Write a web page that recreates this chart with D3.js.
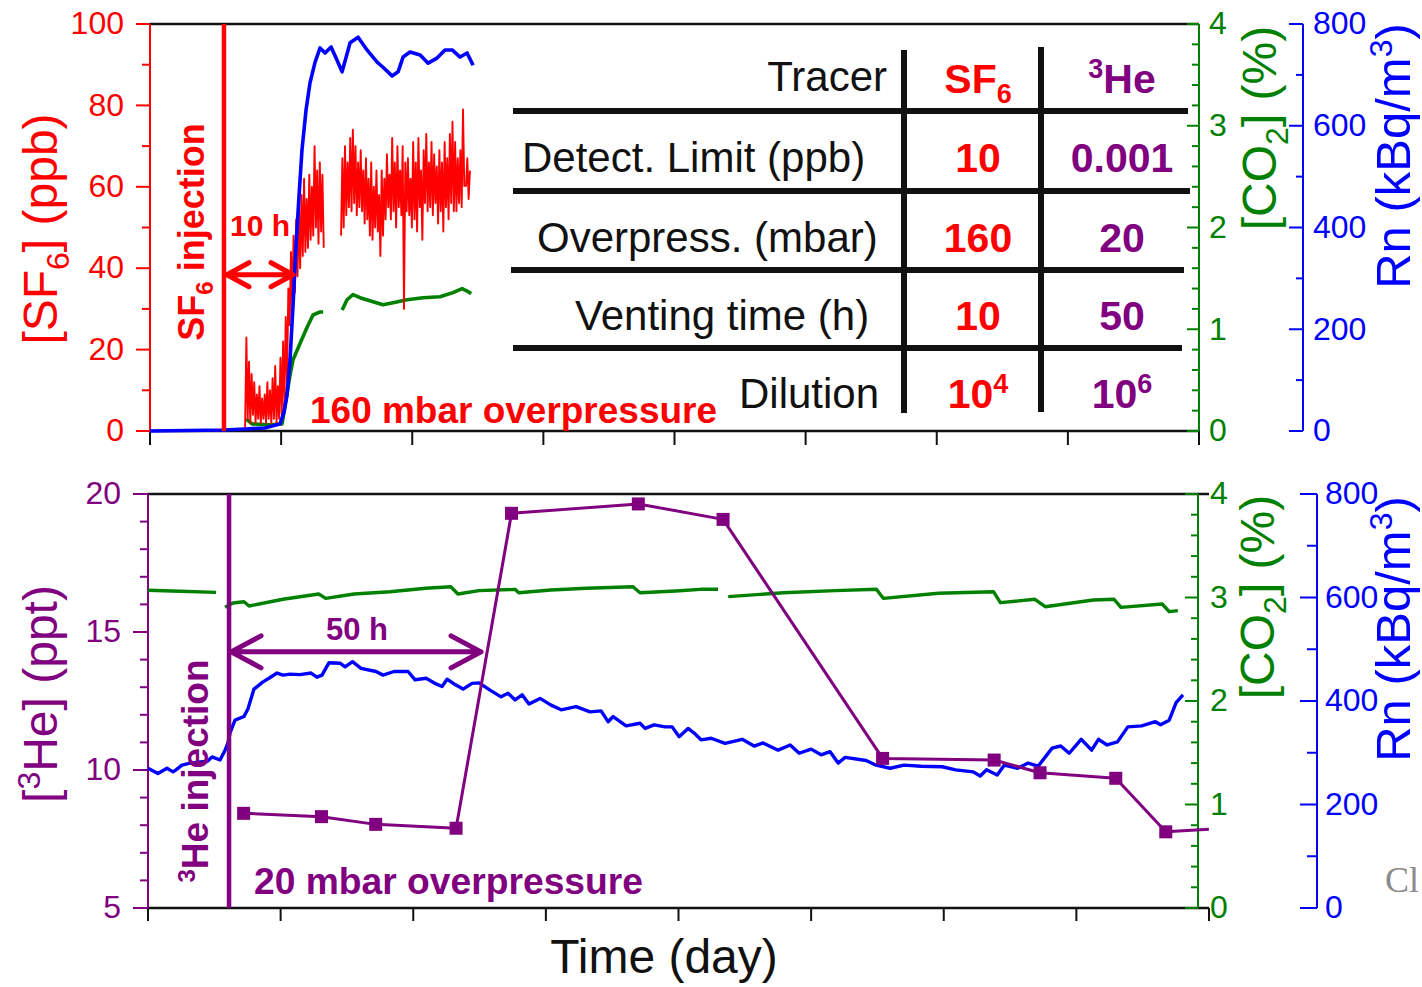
<!DOCTYPE html>
<html>
<head>
<meta charset="utf-8">
<script src="https://cdn.jsdelivr.net/npm/d3@7"></script>
<style>
  html, body { margin: 0; padding: 0; background: #fff; }
  svg { display: block; }
</style>
</head>
<body>
<svg id="chart" width="1422" height="987"></svg>
<script>
// ---- data (time in days) ----
const timeTicks = [0, 1, 2, 3, 4, 5, 6, 7, 8];
const sf6Ticks = [0, 20, 40, 60, 80, 100];
const sf6Minor = [10, 30, 50, 70, 90];
const he3Ticks = [5, 10, 15, 20];
const he3Minor = [6, 7, 8, 9, 11, 12, 13, 14, 16, 17, 18, 19];
const co2Ticks = [0, 1, 2, 3, 4];
const co2Minor = [0.2, 0.4, 0.6, 0.8, 1.2, 1.4, 1.6, 1.8, 2.2, 2.4, 2.6, 2.8, 3.2, 3.4, 3.6, 3.8];
const rnTicks = [0, 200, 400, 600, 800];
const rnMinor = [100, 300, 500, 700];

const sf6InjectionDay = 0.564;
const he3InjectionDay = 0.611;

// SF6 (ppb), sampled every 0.01 day, three recorded segments
const sf6Step = 0.01;
const sf6SegStarts = [0.725, 1.457, 2.41];
const sf6SegA = [0.5, 23, 3, 17, 2, 14, 4, 12, 2, 9, 3, 11, 2, 8, 3, 9, 2, 12, 3, 10, 2, 13, 3, 16, 2, 11, 3, 18, 4, 22,
  6, 28, 12, 35, 26, 44, 31, 48, 34, 52, 38, 55, 40, 58, 43, 62, 44, 57, 45, 63, 47, 60, 48, 70, 50, 64, 46, 66, 49, 63, 45];
const sf6SegB = [48, 67, 50, 70, 53, 66, 55, 72, 54, 74, 56, 70, 53, 66, 55, 69, 54, 64, 51, 67,
  52, 62, 48, 66, 47, 60, 50, 64, 49, 58, 43, 64, 48, 62, 52, 68, 55, 63, 52, 72,
  54, 66, 50, 70, 55, 64, 53, 70, 30, 66, 54, 67, 53, 62, 50, 71, 52, 66, 49, 72,
  55, 64, 47, 69, 56, 73, 54, 66, 55, 71, 53, 68, 56, 65, 51, 69, 54, 66, 49, 71,
  55, 67, 52, 73, 56, 76, 54, 71, 54, 67, 56, 69, 55, 79, 60];
const sf6SegC = [60, 67, 57, 64];

// top panel radon (kBq/m3)
const rnTopDays = [0, 0.564, 0.725, 0.877, 0.992, 1.022, 1.045, 1.068, 1.091, 1.114, 1.137, 1.159, 1.190, 1.220, 1.259,
  1.297, 1.335, 1.381, 1.419, 1.465, 1.526, 1.587, 1.655, 1.732, 1.777, 1.846, 1.892, 1.930, 1.983, 2.060,
  2.121, 2.189, 2.250, 2.304, 2.365, 2.418, 2.464];
const rnTopValues = [0, 2, 4, 6, 14, 37, 71, 140, 248, 366, 464, 552, 631, 684, 725,
  753, 743, 755, 733, 706, 763, 774, 749, 725, 715, 698, 706, 735, 745, 739,
  723, 733, 749, 749, 735, 743, 719];

// top panel CO2 (%), null = gap
const co2TopDays = [0.732, 0.778, 0.915, 1.007, 1.045, 1.068, 1.091, 1.144, 1.198, 1.243, 1.297, 1.320, 1.39,
  1.465, 1.503, 1.548, 1.602, 1.701, 1.777, 1.854, 1.960, 2.082, 2.212, 2.311, 2.380, 2.426, 2.449];
const co2TopValues = [0.12, 0.07, 0.06, 0.07, 0.37, 0.55, 0.70, 0.86, 1.02, 1.14, 1.17, 1.17, null,
  1.19, 1.29, 1.34, 1.31, 1.27, 1.24, 1.26, 1.29, 1.31, 1.32, 1.36, 1.40, 1.37, 1.35];

// bottom panel 3He (ppt)
const he3Days = [0.721, 1.308, 1.717, 2.323, 2.741, 3.697, 4.336, 5.539, 6.380, 6.726, 7.297, 7.674];
const he3Values = [8.43, 8.31, 8.03, 7.89, 19.30, 19.64, 19.08, 10.42, 10.36, 9.90, 9.70, 7.76];
const he3EndDay = 7.999;
const he3EndValue = 7.85;

// bottom panel radon (kBq/m3)
const rnBotDays = [0, 0.075, 0.143, 0.189, 0.211, 0.256, 0.317, 0.392, 0.445, 0.483,
  0.543, 0.581, 0.603, 0.618, 0.656, 0.724, 0.754, 0.799, 0.867, 0.912,
  0.973, 1.018, 1.071, 1.146, 1.229, 1.274, 1.312, 1.365, 1.448, 1.486,
  1.542, 1.606, 1.719, 1.772, 1.855, 1.961, 2.014, 2.097, 2.172, 2.217,
  2.255, 2.308, 2.376, 2.443, 2.496, 2.579, 2.662, 2.715, 2.768, 2.821,
  2.873, 2.956, 3.039, 3.115, 3.228, 3.333, 3.416, 3.469, 3.507, 3.605,
  3.710, 3.748, 3.816, 3.899, 3.952, 4.005, 4.072, 4.118, 4.170, 4.246,
  4.351, 4.480, 4.570, 4.638, 4.751, 4.842, 4.910, 5.000, 5.075, 5.143,
  5.204, 5.256, 5.415, 5.490, 5.596, 5.701, 5.830, 5.988, 6.090, 6.222,
  6.275, 6.323, 6.403, 6.456, 6.558, 6.636, 6.712, 6.817, 6.882, 6.946,
  7.036, 7.115, 7.167, 7.232, 7.310, 7.388, 7.492, 7.596, 7.635, 7.700,
  7.752, 7.804];
const rnBotValues = [270, 260, 270, 263, 267, 276, 280, 282, 283, 292,
  286, 305, 319, 338, 363, 370, 385, 423, 437, 444,
  454, 450, 452, 451, 454, 446, 450, 474, 473, 466,
  476, 463, 457, 450, 457, 457, 441, 444, 433, 428,
  442, 433, 423, 434, 435, 421, 408, 415, 402, 412,
  394, 405, 392, 383, 389, 379, 381, 360, 370, 352,
  357, 347, 354, 350, 350, 331, 347, 338, 325, 328,
  318, 326, 313, 319, 305, 315, 299, 307, 296, 302,
  280, 291, 285, 276, 270, 276, 274, 273, 267, 263,
  255, 267, 257, 276, 270, 280, 274, 309, 313, 299,
  326, 305, 326, 315, 321, 350, 352, 360, 354, 363,
  397, 412];

// bottom panel CO2 (%), null = gap
const co2BotDays = [0, 0.241, 0.513, 0.55,
  0.581, 0.641, 0.724, 0.762, 1.018, 1.287, 1.340, 1.554, 1.825, 2.094, 2.283, 2.337, 2.496, 2.768, 2.795,
  3.037, 3.306, 3.657, 3.710, 3.980, 4.163, 4.298, 4.34,
  4.375, 4.791, 5.181, 5.492, 5.544, 5.960, 6.375, 6.427, 6.687, 6.765, 7.128, 7.284, 7.336, 7.647, 7.700, 7.765];
const co2BotValues = [3.07, 3.06, 3.05, null,
  2.905, 2.947, 2.959, 2.918, 2.983, 3.034, 2.992, 3.034, 3.056, 3.089, 3.104, 3.034, 3.066, 3.079, 3.046,
  3.072, 3.089, 3.104, 3.046, 3.063, 3.079, 3.079, null,
  3.008, 3.046, 3.066, 3.079, 2.992, 3.041, 3.056, 2.950, 2.983, 2.911, 2.976, 2.983, 2.905, 2.937, 2.863, 2.873];

// table
const tableHeader = "Tracer";
const tableRows = ["Detect. Limit (ppb)", "Overpress. (mbar)", "Venting time (h)", "Dilution"];
const sf6Column = ["10", "160", "10", "10^4"];
const he3Column = ["0.001", "20", "50", "10^6"];

// ---- drawing ----
const FONT = '"Liberation Sans", Arial, Helvetica, sans-serif';
const RED = "#ff0000", PURPLE = "#800080", GREEN = "#008000", BLUE = "#0000ff", INK = "#111";

const svg = d3.select("#chart").attr("font-family", FONT);

const xTop = d3.scaleLinear().domain([0, 8]).range([150, 1199]);
const ySf6 = d3.scaleLinear().domain([0, 100]).range([431, 24]);
const yCo2Top = d3.scaleLinear().domain([0, 4]).range([431, 24]);
const yRnTop = d3.scaleLinear().domain([0, 800]).range([431, 24]);

const xBot = d3.scaleLinear().domain([0, 8]).range([148, 1209]);
const yHe = d3.scaleLinear().domain([5, 20]).range([908, 494]);
const yCo2Bot = d3.scaleLinear().domain([0, 4]).range([908, 494]);
const yRnBot = d3.scaleLinear().domain([0, 800]).range([908, 494]);

const zip = (a, b) => a.map((d, i) => [d, b[i]]);

function styleAxis(g, color) {
  g.attr("font-family", FONT).attr("font-size", 32);
  g.select(".domain").attr("stroke", color).attr("stroke-width", 2);
  g.selectAll(".tick line").attr("stroke", color).attr("stroke-width", 2);
  g.selectAll(".tick text").attr("fill", color);
}

// sizes = [major, minor, padding]
function vAxis(x, maker, scale, major, minor, color, sizes) {
  const gMinor = svg.append("g").attr("transform", `translate(${x},0)`)
    .call(maker(scale).tickValues(minor).tickSize(sizes[1]).tickSizeOuter(0).tickFormat("").offset(0));
  styleAxis(gMinor, color);
  const gMajor = svg.append("g").attr("transform", `translate(${x},0)`)
    .call(maker(scale).tickValues(major).tickSize(sizes[0]).tickSizeOuter(0)
      .tickPadding(sizes[2]).tickFormat(d3.format("d")).offset(0));
  styleAxis(gMajor, color);
}

function timeAxis(xs, y, yTop, len) {
  svg.append("line")
    .attr("x1", xs.range()[0]).attr("x2", xs.range()[1])
    .attr("y1", yTop).attr("y2", yTop)
    .attr("stroke", INK).attr("stroke-width", 2.5);
  const g = svg.append("g").attr("transform", `translate(0,${y})`)
    .call(d3.axisBottom(xs).tickValues(timeTicks).tickSize(len).tickSizeOuter(0).tickFormat("").offset(0));
  g.select(".domain").attr("stroke", INK).attr("stroke-width", 2.5);
  g.selectAll(".tick line").attr("stroke", INK).attr("stroke-width", 2);
}

function drawLine(points, xs, ys, color, width) {
  svg.append("path").datum(points)
    .attr("fill", "none")
    .attr("stroke", color)
    .attr("stroke-width", width)
    .attr("stroke-linejoin", "round")
    .attr("d", d3.line().defined((d) => d[1] != null).x((d) => xs(d[0])).y((d) => ys(d[1])));
}

function richText(x, y, parts, opts) {
  const t = svg.append("text")
    .attr("transform", `translate(${x},${y})` + (opts.rotate ? " rotate(-90)" : ""))
    .attr("text-anchor", opts.anchor || "start")
    .attr("font-size", opts.size)
    .attr("font-weight", opts.bold ? "bold" : null)
    .attr("font-family", opts.family || FONT)
    .attr("fill", opts.color);
  let shift = 0;
  parts.forEach((p) => {
    const target = p.sub ? opts.size * 0.24 : p.sup ? -opts.size * 0.36 : 0;
    const span = t.append("tspan").attr("dy", target - shift).text(p.t);
    if (p.sub || p.sup) span.attr("font-size", Math.round(opts.size * 0.66));
    shift = target;
  });
  if (opts.length) t.attr("textLength", opts.length).attr("lengthAdjust", "spacingAndGlyphs");
  return t;
}

function doubleArrow(x0, x1, y, color, dx, dy) {
  const p = d3.path();
  p.moveTo(x0, y); p.lineTo(x1, y);
  p.moveTo(x0 + dx, y - dy); p.lineTo(x0, y); p.lineTo(x0 + dx, y + dy);
  p.moveTo(x1 - dx, y - dy); p.lineTo(x1, y); p.lineTo(x1 - dx, y + dy);
  svg.append("path").attr("d", p.toString())
    .attr("fill", "none").attr("stroke", color).attr("stroke-width", 5)
    .attr("stroke-linecap", "round").attr("stroke-linejoin", "round");
}

// ---- top panel ----
timeAxis(xTop, 431, ySf6(100), 14);
vAxis(xTop.range()[0], d3.axisLeft, ySf6, sf6Ticks, sf6Minor, RED, [14, 8, 12]);
vAxis(xTop.range()[1], d3.axisRight, yCo2Top, co2Ticks, co2Minor, GREEN, [-12, -7, 10]);
vAxis(1303, d3.axisRight, yRnTop, rnTicks, rnMinor, BLUE, [-14, -7, 10]);

drawLine(zip(co2TopDays, co2TopValues), xTop, yCo2Top, GREEN, 3.6);
[sf6SegA, sf6SegB, sf6SegC].forEach((seg, k) => {
  drawLine(seg.map((v, i) => [sf6SegStarts[k] + i * sf6Step, v]), xTop, ySf6, RED, 1.9);
});
drawLine(zip(rnTopDays, rnTopValues), xTop, yRnTop, BLUE, 3.6);

svg.append("line")
  .attr("x1", xTop(sf6InjectionDay)).attr("x2", xTop(sf6InjectionDay))
  .attr("y1", ySf6(100)).attr("y2", ySf6(0))
  .attr("stroke", RED).attr("stroke-width", 4.5);

doubleArrow(xTop(sf6InjectionDay) + 3, xTop(1.091), ySf6(38.4), RED, 22, 12);
richText(230, 236, [{ t: "10 h" }], { size: 30, bold: true, color: RED });
richText(204, 232, [{ t: "SF" }, { t: "6", sub: true }, { t: " injection" }],
  { size: 36, bold: true, color: RED, rotate: true, anchor: "middle" });
richText(310, 423, [{ t: "160 mbar overpressure" }], { size: 37, bold: true, color: RED, length: 407 });

// axis titles (top)
richText(57, 229, [{ t: "[SF" }, { t: "6", sub: true }, { t: "] (ppb)" }],
  { size: 48, color: RED, rotate: true, anchor: "middle" });
richText(1276, 128, [{ t: "[CO" }, { t: "2", sub: true }, { t: "] (%)" }],
  { size: 48, color: GREEN, rotate: true, anchor: "middle" });
richText(1410, 156, [{ t: "Rn (kBq/m" }, { t: "3", sup: true }, { t: ")" }],
  { size: 49, color: BLUE, rotate: true, anchor: "middle" });

// table
const table = svg.append("g");
[[111, 513, 1188], [191, 513, 1190], [270, 511, 1184], [348, 513, 1182]].forEach((h) => {
  table.append("line").attr("x1", h[1]).attr("x2", h[2]).attr("y1", h[0]).attr("y2", h[0])
    .attr("stroke", INK).attr("stroke-width", 6);
});
[[904, 50, 413], [1041, 47, 412]].forEach((v) => {
  table.append("line").attr("x1", v[0]).attr("x2", v[0]).attr("y1", v[1]).attr("y2", v[2])
    .attr("stroke", INK).attr("stroke-width", 6);
});
const rowBaselines = [172, 252, 330, 408];
const rowLabelX = [522, 537, 575, 739];
richText(887, 91, [{ t: tableHeader }], { size: 42, color: INK, anchor: "end" });
richText(978, 93, [{ t: "SF" }, { t: "6", sub: true }], { size: 41, bold: true, color: RED, anchor: "middle" });
richText(1122, 93, [{ t: "3", sup: true }, { t: "He" }], { size: 41, bold: true, color: PURPLE, anchor: "middle" });

function cellParts(s) {
  const [base, sup] = s.split("^");
  return sup ? [{ t: base }, { t: sup, sup: true }] : [{ t: base }];
}
tableRows.forEach((label, i) => {
  richText(rowLabelX[i], rowBaselines[i], [{ t: label }], { size: 42, color: INK });
  richText(978, rowBaselines[i], cellParts(sf6Column[i]), { size: 41, bold: true, color: RED, anchor: "middle" });
  richText(1122, rowBaselines[i], cellParts(he3Column[i]), { size: 41, bold: true, color: PURPLE, anchor: "middle" });
});

// ---- bottom panel ----
timeAxis(xBot, 908, yHe(20), 13);
vAxis(xBot.range()[0], d3.axisLeft, yHe, he3Ticks, he3Minor, PURPLE, [15, 8, 12]);
vAxis(1198, d3.axisRight, yCo2Bot, co2Ticks, co2Minor, GREEN, [-13, -7, 12]);
vAxis(1317, d3.axisRight, yRnBot, rnTicks, rnMinor, BLUE, [-17, -10, 8]);

drawLine(zip(co2BotDays, co2BotValues), xBot, yCo2Bot, GREEN, 3.4);
drawLine(zip(rnBotDays, rnBotValues), xBot, yRnBot, BLUE, 3.4);
drawLine(zip(he3Days, he3Values).concat([[he3EndDay, he3EndValue]]), xBot, yHe, PURPLE, 3);
svg.append("g").selectAll("rect")
  .data(zip(he3Days, he3Values))
  .join("rect")
  .attr("x", (d) => xBot(d[0]) - 6.5)
  .attr("y", (d) => yHe(d[1]) - 6.5)
  .attr("width", 13).attr("height", 13)
  .attr("fill", PURPLE);

svg.append("line")
  .attr("x1", xBot(he3InjectionDay)).attr("x2", xBot(he3InjectionDay))
  .attr("y1", yHe(20)).attr("y2", yHe(5))
  .attr("stroke", PURPLE).attr("stroke-width", 4.5);

doubleArrow(xBot(he3InjectionDay) + 2, xBot(2.511), yHe(14.28), PURPLE, 30, 16);
richText(326, 640, [{ t: "50 h" }], { size: 31, bold: true, color: PURPLE });
richText(208, 771, [{ t: "3", sup: true }, { t: "He injection" }],
  { size: 37, bold: true, color: PURPLE, rotate: true, anchor: "middle" });
richText(254, 894, [{ t: "20 mbar overpressure" }], { size: 36, bold: true, color: PURPLE, length: 389 });

richText(57, 694, [{ t: "[" }, { t: "3", sup: true }, { t: "He] (ppt)" }],
  { size: 48, color: PURPLE, rotate: true, anchor: "middle" });
richText(1274, 597, [{ t: "[CO" }, { t: "2", sub: true }, { t: "] (%)" }],
  { size: 48, color: GREEN, rotate: true, anchor: "middle" });
richText(1410, 629, [{ t: "Rn (kBq/m" }, { t: "3", sup: true }, { t: ")" }],
  { size: 49, color: BLUE, rotate: true, anchor: "middle" });

richText(664, 973, [{ t: "Time (day)" }], { size: 48, color: INK, anchor: "middle" });
richText(1385, 892, [{ t: "Cl" }], { size: 36, color: "#8a8a8a", family: '"Liberation Serif", "Times New Roman", serif' });
</script>
</body>
</html>
